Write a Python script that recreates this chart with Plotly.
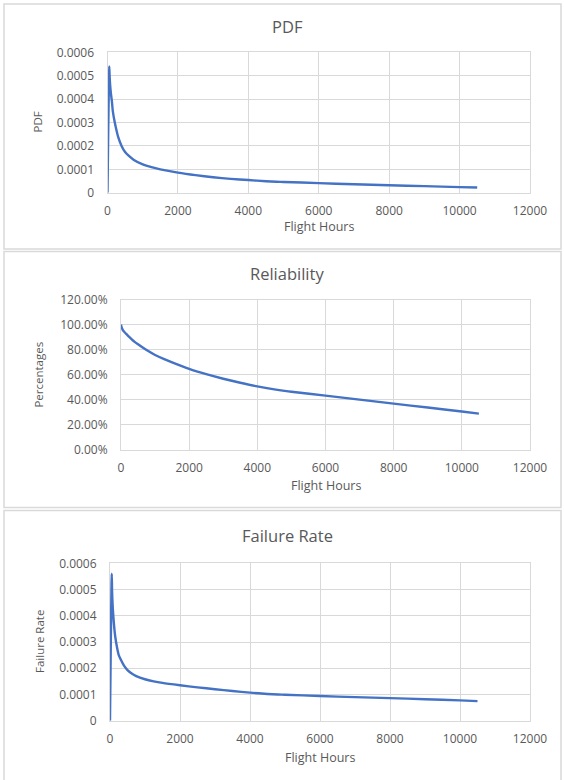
import plotly.graph_objects as go

# ---------------- data ----------------
flight_hours = [0, 50, 60, 75, 100, 125, 150, 200, 250, 300, 400, 500, 600, 750,
                1000, 1250, 1500, 2000, 2500, 3000, 3500, 4000, 4500, 4800, 5000,
                6000, 7000, 8000, 9000, 10000, 10500]

pdf_values = [0, 0.00054, 0.0005, 0.00046, 0.00042, 0.00039, 0.00035, 0.000305,
              0.00027, 0.00024, 0.0002, 0.000174, 0.000158, 0.00014, 0.000121,
              0.000109, 0.0001, 0.000086, 0.000075, 0.000066, 0.000059,
              0.000054, 0.000049, 0.000047, 0.000046, 0.000041, 0.000036,
              0.000032, 0.000028, 0.000024, 0.000022]

failure_rate_values = [0, 0.00056, 0.00049, 0.00044, 0.00039, 0.00035, 0.00032,
                       0.00028, 0.00025, 0.000235, 0.00021, 0.000193, 0.000182,
                       0.00017, 0.000158, 0.00015, 0.000144, 0.000135,
                       0.000127, 0.00012, 0.000113, 0.000107, 0.000102, 0.0001,
                       0.000099, 0.000094, 0.00009, 0.000086, 0.000082,
                       0.0000775, 0.0000745]

reliability_hours = [0, 10, 25, 50, 75, 100, 150, 200, 300, 400, 500, 750, 1000,
                     1250, 1500, 2000, 2500, 3000, 3500, 4000, 4500, 4800, 5000,
                     6000, 7000, 8000, 9000, 10000, 10500]

reliability_values = [1.0, 0.985, 0.972, 0.958, 0.948, 0.94, 0.926, 0.912, 0.886,
                      0.862, 0.842, 0.796, 0.757, 0.725, 0.697, 0.645, 0.603,
                      0.567, 0.535, 0.506, 0.482, 0.47, 0.463, 0.432, 0.40,
                      0.368, 0.337, 0.305, 0.288]

x_ticks = [0, 2000, 4000, 6000, 8000, 10000, 12000]
x_tick_labels = ["0", "2000", "4000", "6000", "8000", "10000", "12000"]
small_ticks = [0, 0.0001, 0.0002, 0.0003, 0.0004, 0.0005, 0.0006]
small_tick_labels = ["0", "0.0001", "0.0002", "0.0003", "0.0004", "0.0005", "0.0006"]
pct_ticks = [0, 0.2, 0.4, 0.6, 0.8, 1.0, 1.2]
pct_tick_labels = ["0.00%", "20.00%", "40.00%", "60.00%", "80.00%", "100.00%", "120.00%"]

chart_titles = ["PDF", "Reliability", "Failure Rate"]
x_title = "Flight Hours"
y_titles = ["PDF", "Percentages", "Failure Rate"]

# ---------------- layout helpers ----------------
W, H = 564, 780
LINE = "#4472C4"
GRID = "#d9d9d9"
TXT = "#595959"
FONT = "Open Sans"


def px_x(v):
    return v / W


def px_y(v):
    return 1 - v / H


# plot area pixel boxes: (left, right, top, bottom)
boxes = [(107.5, 530, 52.3, 192.7), (121, 530, 299.5, 449.7), (110, 530, 563.3, 720.7)]
# panel border boxes: (left, right, top, bottom); None bottom = runs off the page
panels = [(4, 561, 4, 249), (4, 561, 251.5, 507.5), (4, 561, 510.5, None)]
title_y = [27, 273, 535]
xtitle_y = [226.5, 485, 757]
ytitle_x = [37, 39, 39]

xs = [flight_hours, reliability_hours, flight_hours]
series = [pdf_values, reliability_values, failure_rate_values]
yticks = [(small_ticks, small_tick_labels), (pct_ticks, pct_tick_labels),
          (small_ticks, small_tick_labels)]
yranges = [[0, 0.0006], [0, 1.2], [0, 0.0006]]

fig = go.Figure()
layout = dict(width=W, height=H, margin=dict(l=0, r=0, t=0, b=0, autoexpand=False),
              paper_bgcolor="white", plot_bgcolor="white", showlegend=False,
              font=dict(family=FONT, color=TXT, size=12))
annotations = []
shapes = []

for i in range(3):
    sfx = "" if i == 0 else str(i + 1)
    fig.add_trace(go.Scatter(x=xs[i], y=series[i], mode="lines",
                             line=dict(color=LINE, width=2.4, shape="spline",
                                       smoothing=0.6),
                             xaxis="x" + sfx, yaxis="y" + sfx,
                             hoverinfo="x+y"))
    l, r, t, b = boxes[i]
    layout["xaxis" + sfx] = dict(
        domain=[px_x(l), px_x(r)], range=[0, 12000], anchor="y" + sfx,
        tickvals=x_ticks, ticktext=x_tick_labels, showgrid=True,
        gridcolor=GRID, gridwidth=1, zeroline=False, showline=True,
        linecolor=GRID, linewidth=1, mirror=True, ticks="outside",
        ticklen=7, tickcolor="rgba(0,0,0,0)", automargin=False,
        tickfont=dict(family=FONT, size=12, color=TXT), fixedrange=True)
    tv, tt = yticks[i]
    layout["yaxis" + sfx] = dict(
        domain=[px_y(b), px_y(t)], range=yranges[i], anchor="x" + sfx,
        tickvals=tv, ticktext=tt, showgrid=True, gridcolor=GRID, gridwidth=1,
        zeroline=False, showline=True, linecolor=GRID, linewidth=1,
        mirror=True, ticks="outside", ticklen=10, tickcolor="rgba(0,0,0,0)",
        automargin=False,
        tickfont=dict(family=FONT, size=12, color=TXT), fixedrange=True)
    pl, pr, pt, pb = panels[i]
    if pb is None:
        path = "M {} {} L {} {} L {} {} L {} {}".format(
            px_x(pl), 0, px_x(pl), px_y(pt), px_x(pr), px_y(pt), px_x(pr), 0)
        shapes.append(dict(type="path", xref="paper", yref="paper", path=path,
                           line=dict(color=GRID, width=1.5), layer="below"))
    else:
        shapes.append(dict(type="rect", xref="paper", yref="paper",
                           x0=px_x(pl), x1=px_x(pr), y0=px_y(pb), y1=px_y(pt),
                           line=dict(color=GRID, width=1.5), layer="below"))
    annotations.append(dict(text=chart_titles[i], xref="paper", yref="paper",
                            x=px_x(287), y=px_y(title_y[i]), showarrow=False,
                            xanchor="center", yanchor="middle",
                            font=dict(family=FONT, size=16.5, color=TXT)))
    annotations.append(dict(text=x_title, xref="paper", yref="paper",
                            x=px_x((l + r) / 2), y=px_y(xtitle_y[i]),
                            showarrow=False, xanchor="center", yanchor="middle",
                            font=dict(family=FONT, size=12.5, color=TXT)))
    annotations.append(dict(text=y_titles[i], xref="paper", yref="paper",
                            x=px_x(ytitle_x[i]), y=px_y((t + b) / 2),
                            showarrow=False, xanchor="center", yanchor="middle",
                            textangle=-90,
                            font=dict(family=FONT, size=11.5, color=TXT)))

layout["annotations"] = annotations
layout["shapes"] = shapes
fig.update_layout(**layout)
fig.write_html("out.html", config={"displayModeBar": False},
               post_script="document.body.style.margin='0px';"
                           "document.body.style.overflow='hidden';")
